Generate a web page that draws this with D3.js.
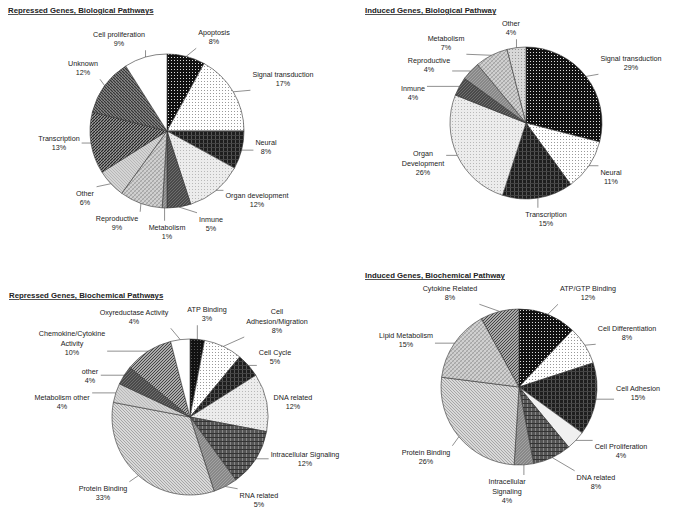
<!DOCTYPE html>
<html>
<head>
<meta charset="utf-8">
<script src="https://cdn.jsdelivr.net/npm/d3@7"></script>
<style>
  body { margin: 0; background: #fff; }
  svg { display: block; }
  .title { font-family: "Liberation Sans", Arial, sans-serif; font-size: 7.8px; font-weight: bold; fill: #222; text-decoration: underline; }
  .lbl { font-family: "Liberation Sans", Arial, sans-serif; font-size: 7.2px; fill: #222; }
</style>
</head>
<body>
<svg id="chart" width="685" height="517"></svg>
<script>
// ---------- DATA ----------
// Repressed Genes, Biological Pathways
const rbCategories = ["Apoptosis","Signal transduction","Neural","Organ development","Inmune","Metabolism","Reproductive","Other","Transcription","Unknown","Cell proliferation"];
const rbValues = [8,17,8,12,5,1,9,6,13,12,9];
// Induced Genes, Biological Pathway
const ibCategories = ["Signal transduction","Neural","Transcription","Organ\nDevelopment","Inmune","Reproductive","Metabolism","Other"];
const ibValues = [29,11,15,26,4,4,7,4];
// Repressed Genes, Biochemical Pathways
const rcCategories = ["ATP Binding","Cell\nAdhesion/Migration","Cell Cycle","DNA related","Intracellular Signaling","RNA related","Protein Binding","Metabolism other","other","Chemokine/Cytokine\nActivity","Oxyreductase Activity"];
const rcValues = [3,8,5,12,12,5,33,4,4,10,4];
// Induced Genes, Biochemical Pathway
const icCategories = ["ATP/GTP Binding","Cell Differentiation","Cell Adhesion","Cell Proliferation","DNA related","Intracellular\nSignaling","Protein Binding","Lipid Metabolism","Cytokine Related"];
const icValues = [12,8,15,4,8,4,26,15,8];

const titles = ["Repressed Genes, Biological Pathways","Induced Genes, Biological Pathway","Repressed Genes, Biochemical Pathways","Induced Genes, Biochemical Pathway"];

// ---------- STYLE / LAYOUT ----------
const rbFills = ["blackDots","whiteDots","blackGrid","lightGrid","darkGray","midGray","lightCross","lightGray","darkDiag","darkDiag2","plainWhite"];
const ibFills = ["blackDots","whiteDots","blackGrid","lightGrid","darkGray","midGray","lightCross","lightDots"];
const rcFills = ["blackSolid","whiteDots","blackGrid","lightGrid","darkGrid","midGray","lightDiag","lightGray","darkGray","midDiag","plainWhite"];
const icFills = ["blackDots","whiteDots","blackGrid","plainLight","darkGrid","midGray","lightDiag","lightCross","midDiag"];

// label centres relative to pie centre
const rbLabelPos = [[47,-94],[116,-52],[99,16],[90,69],[44,93],[0,101],[-50,92],[-82,67],[-108,12],[-84,-63],[-48,-92]];
const ibLabelPos = [[105,-60],[85,54],[20,96],[-103,40],[-113,-30],[-97,-58],[-80,-80],[-15,-95]];
const rcLabelPos = [[17,-103],[87,-96],[85,-60],[103,-15],[115,42],[69,83],[-87,76],[-128,-15],[-100,-41],[-118,-74],[-56,-100]];
const icLabelPos = [[69,-94],[108,-54],[119,6],[102,64],[77,95],[-12,104],[-93,70],[-113,-47],[-69,-94]];

const charts = [
  {title: titles[0], cats: rbCategories, vals: rbValues, fills: rbFills, lpos: rbLabelPos, cx: 167, cy: 131, r: 77, tx: 8, ty: 13},
  {title: titles[1], cats: ibCategories, vals: ibValues, fills: ibFills, lpos: ibLabelPos, cx: 526, cy: 123, r: 76, tx: 365, ty: 13},
  {title: titles[2], cats: rcCategories, vals: rcValues, fills: rcFills, lpos: rcLabelPos, cx: 190, cy: 417, r: 78, tx: 9, ty: 298},
  {title: titles[3], cats: icCategories, vals: icValues, fills: icFills, lpos: icLabelPos, cx: 519, cy: 387, r: 78, tx: 365, ty: 278}
];

const svg = d3.select("#chart");
const defs = svg.append("defs");

function pat(id, size, bg, draw) {
  const p = defs.append("pattern").attr("id", id).attr("patternUnits", "userSpaceOnUse")
    .attr("width", size).attr("height", size);
  p.append("rect").attr("width", size).attr("height", size).attr("fill", bg);
  if (draw) draw(p);
}
const dot = (p, x, y, c, s=1) => p.append("rect").attr("x", x).attr("y", y).attr("width", s).attr("height", s).attr("fill", c);
const line = (p, x1, y1, x2, y2, c, w=1) => p.append("line").attr("x1", x1).attr("y1", y1).attr("x2", x2).attr("y2", y2).attr("stroke", c).attr("stroke-width", w);

pat("blackDots", 3, "#111", p => dot(p, 1, 1, "#ddd"));
pat("blackSolid", 3, "#111", p => dot(p, 1, 1, "#555"));
pat("whiteDots", 3, "#fff", p => dot(p, 1, 1, "#999"));
pat("blackGrid", 4, "#1e1e1e", p => { line(p, 0.5, 0, 0.5, 4, "#555"); line(p, 0, 0.5, 4, 0.5, "#444"); });
pat("darkGrid", 4, "#555", p => { line(p, 0.5, 0, 0.5, 4, "#888"); line(p, 0, 0.5, 4, 0.5, "#333"); });
pat("lightGrid", 3, "#ececec", p => { dot(p, 1, 1, "#b8b8b8"); });
pat("lightDots", 3, "#d8d8d8", p => { dot(p, 1, 1, "#999"); });
pat("darkGray", 3, "#4a4a4a", p => line(p, 0, 3, 3, 0, "#777", 0.8));
pat("midGray", 3, "#888", p => line(p, 0, 3, 3, 0, "#aaa", 0.8));
pat("lightCross", 4, "#d0d0d0", p => { line(p, 0, 4, 4, 0, "#999", 0.8); line(p, 0, 0, 4, 4, "#aaa", 0.6); });
pat("lightGray", 3, "#d4d4d4", p => line(p, 0, 0, 3, 3, "#aaa", 0.7));
pat("lightDiag", 3, "#d9d9d9", p => line(p, 0, 0, 3, 3, "#999", 0.8));
pat("darkDiag", 3, "#999", p => line(p, 0, 3, 3, 0, "#222", 1.2));
pat("darkDiag2", 3, "#888", p => line(p, 0, 0, 3, 3, "#333", 1.2));
pat("midDiag", 3, "#aaa", p => line(p, 0, 3, 3, 0, "#444", 1));
pat("plainWhite", 3, "#fff");
pat("plainLight", 3, "#f0f0f0");

const pie = d3.pie().sort(null).value(d => d);

charts.forEach(ch => {
  svg.append("text").attr("class", "title").attr("x", ch.tx).attr("y", ch.ty).text(ch.title);
  const g = svg.append("g").attr("transform", `translate(${ch.cx},${ch.cy})`);
  const arc = d3.arc().innerRadius(0).outerRadius(ch.r);
  const arcs = pie(ch.vals);
  g.selectAll("path.slice").data(arcs).join("path")
    .attr("class", "slice")
    .attr("d", arc)
    .attr("fill", (d, i) => `url(#${ch.fills[i]})`)
    .attr("stroke", "#333").attr("stroke-width", 0.6);

  const lh = 9.5;
  arcs.forEach((a, i) => {
    const lines = ch.cats[i].split("\n").concat([ch.vals[i] + "%"]);
    const [lx, ly] = ch.lpos[i];
    const top = ly - (lines.length - 1) * lh / 2;
    const t = g.append("text").attr("class", "lbl").attr("text-anchor", "middle");
    lines.forEach((ln, k) => {
      t.append("tspan").attr("x", lx).attr("y", top + k * lh + 2.5).text(ln);
    });
    const bb = t.node().getBBox();
    const mid = (a.startAngle + a.endAngle) / 2;
    const px = ch.r * Math.sin(mid), py = -ch.r * Math.cos(mid);
    const pad = 2;
    const x0 = bb.x - pad, x1 = bb.x + bb.width + pad, y0 = bb.y - pad, y1 = bb.y + bb.height + pad;
    const ex = Math.max(x0, Math.min(x1, px)), ey = Math.max(y0, Math.min(y1, py));
    const dist = Math.hypot(ex - px, ey - py);
    if (dist > 5) {
      g.append("line").attr("x1", px).attr("y1", py).attr("x2", ex).attr("y2", ey)
        .attr("stroke", "#444").attr("stroke-width", 0.6);
    }
  });
});
</script>
</body>
</html>
